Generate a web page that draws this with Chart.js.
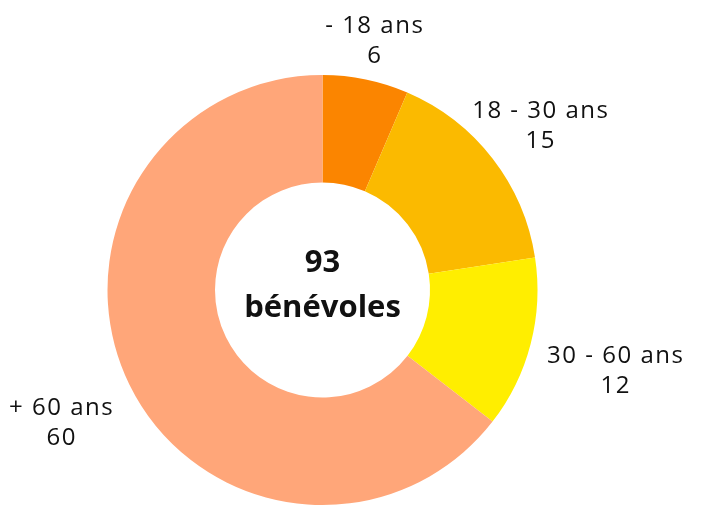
<!DOCTYPE html>
<html>
<head>
<meta charset="utf-8">
<script src="https://cdn.jsdelivr.net/npm/chart.js@4"></script>
<style>
  html, body { margin: 0; padding: 0; background: #fff; }
  #wrap { width: 704px; height: 507px; }
</style>
</head>
<body>
<div id="wrap"><canvas id="benevoles"></canvas></div>
<script>
const categories = ['- 18 ans', '18 - 30 ans', '30 - 60 ans', '+ 60 ans'];
const counts = [6, 15, 12, 60];
const sliceColors = ['#FB8500', '#FBBA00', '#FFEE00', '#FFA679'];
const centerLines = ['93', 'bénévoles'];

const FONT = '"Open Sans", Lato, sans-serif';

// labels around the ring: name on top, value below
// the text block is pushed out along the slice's middle ray until its edge clears the ring
const outsideLabels = {
    id: 'outsideLabels',
    afterDatasetsDraw(chart) {
        const ctx = chart.ctx;
        const meta = chart.getDatasetMeta(0);
        const lineH = 29;
        const gap = 17;
        ctx.save();
        ctx.font = '24px ' + FONT;
        ctx.letterSpacing = '1.5px';
        ctx.fillStyle = '#111';
        ctx.textAlign = 'center';
        ctx.textBaseline = 'middle';
        meta.data.forEach((arc, i) => {
            const p = arc.getProps(['x', 'y', 'startAngle', 'endAngle', 'outerRadius'], true);
            const mid = (p.startAngle + p.endAngle) / 2;
            const dx = Math.cos(mid), dy = Math.sin(mid);
            const lines = [categories[i], String(counts[i])];
            const halfW = Math.max(...lines.map(t => ctx.measureText(t).width)) / 2;
            const halfH = lineH - 2;
            const edge = Math.min(
                Math.abs(dx) > 1e-6 ? halfW / Math.abs(dx) : Infinity,
                Math.abs(dy) > 1e-6 ? halfH / Math.abs(dy) : Infinity
            );
            const r = p.outerRadius + gap + edge;
            const cx = p.x + dx * r;
            const cy = p.y + dy * r + 5;
            ctx.fillText(lines[0], cx, cy - lineH / 2);
            ctx.fillText(lines[1], cx, cy + lineH / 2 + 1);
        });
        ctx.restore();
    }
};

// total in the hole
const centerText = {
    id: 'centerText',
    afterDatasetsDraw(chart) {
        const ctx = chart.ctx;
        const arc = chart.getDatasetMeta(0).data[0];
        ctx.save();
        ctx.font = 'bold 31px ' + FONT;
        ctx.fillStyle = '#111';
        ctx.textAlign = 'center';
        ctx.textBaseline = 'middle';
        ctx.fillText(centerLines[0], arc.x, arc.y - 27);
        ctx.fillText(centerLines[1], arc.x, arc.y + 18);
        ctx.restore();
    }
};

new Chart(document.getElementById('benevoles'), {
    type: 'doughnut',
    data: {
        labels: categories,
        datasets: [{
            data: counts,
            backgroundColor: sliceColors,
            borderWidth: 0
        }]
    },
    options: {
        responsive: true,
        maintainAspectRatio: false,
        animation: false,
        cutout: '50%',
        layout: { padding: { top: 75, bottom: 2, left: 107, right: 166 } },
        plugins: {
            legend: { display: false },
            tooltip: { enabled: false }
        }
    },
    plugins: [outsideLabels, centerText]
});
</script>
</body>
</html>
